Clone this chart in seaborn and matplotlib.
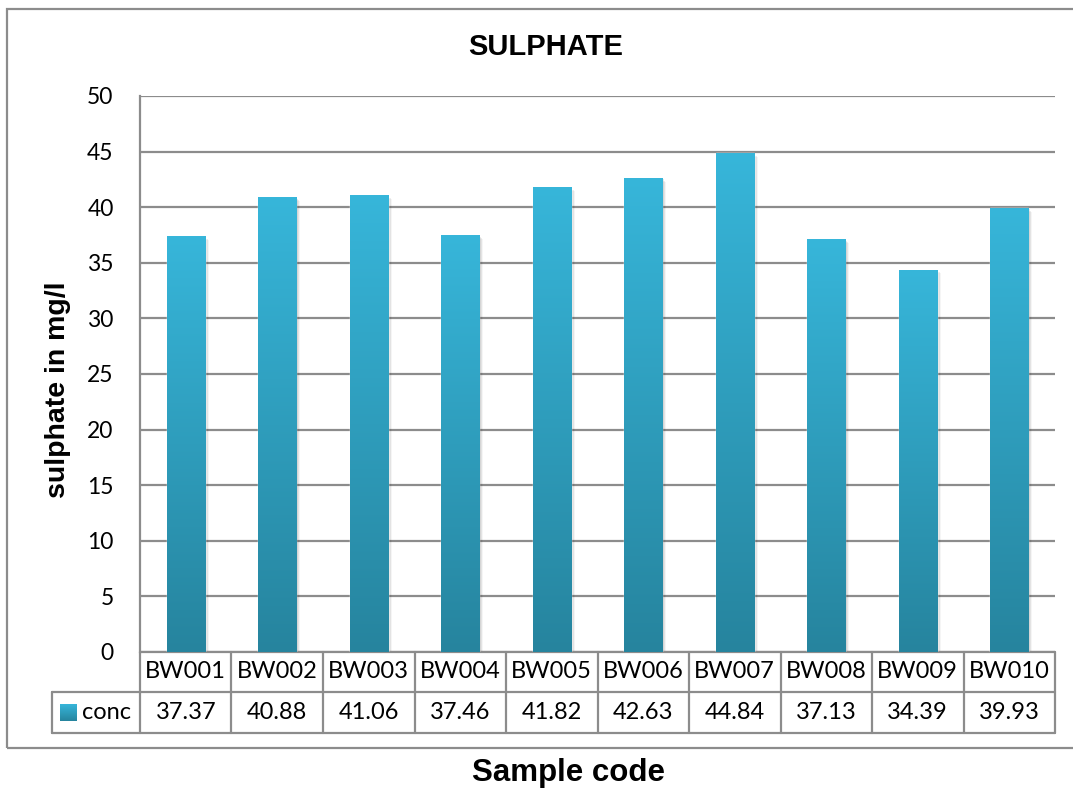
import numpy as np
import pandas as pd
import matplotlib
matplotlib.use("Agg")
import matplotlib.pyplot as plt
import seaborn as sns
from matplotlib.colors import LinearSegmentedColormap
from matplotlib.patches import Rectangle
from matplotlib.lines import Line2D
import matplotlib.transforms as mtransforms

# Data
samples = ["BW001", "BW002", "BW003", "BW004", "BW005",
           "BW006", "BW007", "BW008", "BW009", "BW010"]
conc = [37.37, 40.88, 41.06, 37.46, 41.82, 42.63, 44.84, 37.13, 34.39, 39.93]
series_name = "conc"
y_ticks = [0, 5, 10, 15, 20, 25, 30, 35, 40, 45, 50]

df = pd.DataFrame({"sample": samples, series_name: conc})

sns.set_theme(style="white")
plt.rcParams["font.family"] = ["Lato", "DejaVu Sans"]

W, H = 1073, 790
fig = plt.figure(figsize=(W / 100, H / 100), dpi=100)
fig.patch.set_facecolor("white")

# plot area in pixels: left 140, right 1055, top 96, bottom 652
ax = fig.add_axes([140 / W, (H - 652) / H, 915 / W, 556 / H])

top_col = "#37b6da"
bot_col = "#26849e"
grid_col = "#8c8c8c"

sns.barplot(data=df, x="sample", y=series_name, ax=ax, width=0.42,
            color=top_col, saturation=1, zorder=3)

ax.set_xlim(-0.5, len(samples) - 0.5)
ax.set_ylim(y_ticks[0], y_ticks[-1])
ax.set_yticks(y_ticks)
ax.set_yticklabels([str(t) for t in y_ticks], fontsize=16.5, color="black")
ax.tick_params(axis="y", length=0, pad=19)
ax.tick_params(axis="x", length=0, labelbottom=False)
ax.set_xlabel("")
ax.set_ylabel("")
ax.yaxis.grid(True, color=grid_col, lw=1.6)
ax.xaxis.grid(False)
ax.set_axisbelow(True)
for side in ["top", "right", "bottom"]:
    ax.spines[side].set_visible(False)
ax.spines["left"].set_color(grid_col)
ax.spines["left"].set_linewidth(1.6)

# vertical gradient fill on every bar, with a soft drop shadow
cmap = LinearSegmentedColormap.from_list("bar", [bot_col, top_col])
grad = np.linspace(0, 1, 256).reshape(-1, 1)
for patch in ax.patches:
    x0, y0 = patch.get_x(), patch.get_y()
    w, h = patch.get_width(), patch.get_height()
    for k, a in enumerate([0.10, 0.07, 0.04]):
        off = mtransforms.offset_copy(ax.transData, fig=fig,
                                      x=1.5 + k * 1.2, y=-1.5 - k * 1.2, units="dots")
        ax.add_patch(Rectangle((x0, y0), w, h, transform=off,
                               facecolor="black", alpha=a, lw=0, zorder=2))
    im = ax.imshow(grad, extent=(x0, x0 + w, y0, y0 + h), origin="lower",
                   cmap=cmap, aspect="auto", zorder=4, interpolation="bilinear")
    im.set_clip_path(patch)
ax.set_xlim(-0.5, len(samples) - 0.5)
ax.set_ylim(y_ticks[0], y_ticks[-1])

# data table below the plot
trans = mtransforms.blended_transform_factory(ax.transData, ax.transAxes)
r1 = -40 / 556
r2 = -81 / 556
n = len(samples)
xl = -0.5 - 88 * n / 915  # left edge of the legend cell
lw_t = 1.6
line_kw = dict(color=grid_col, lw=lw_t, clip_on=False, transform=trans)
ax.add_line(Line2D([xl, n - 0.5], [r1, r1], **line_kw))
ax.add_line(Line2D([xl, n - 0.5], [r2, r2], **line_kw))
ax.add_line(Line2D([-0.5, n - 0.5], [0, 0], **line_kw))
ax.add_line(Line2D([xl, xl], [r1, r2], **line_kw))
for i in range(n + 1):
    ax.add_line(Line2D([i - 0.5, i - 0.5], [0, r2], **line_kw))
for i, (s, v) in enumerate(zip(samples, conc)):
    ax.text(i, r1 / 2, s, transform=trans, ha="center", va="center",
            fontsize=17, color="black")
    ax.text(i, (r1 + r2) / 2, f"{v:.2f}", transform=trans, ha="center",
            va="center", fontsize=17, color="black")

# legend key in the table's first cell
key_x = -0.5 - 80 * n / 915
key_w = 17 * n / 915
key_h = 17 / 556
key_y = (r1 + r2) / 2 - key_h / 2
key = Rectangle((key_x, key_y), key_w, key_h, transform=trans,
                facecolor=top_col, lw=0, clip_on=False)
ax.add_patch(key)
kim = ax.imshow(grad, extent=(key_x, key_x + key_w, key_y, key_y + key_h),
                origin="lower", cmap=cmap, aspect="auto", transform=trans,
                clip_on=False, zorder=5)
kim.set_clip_path(key)
ax.text(-0.5 - 58 * n / 915, (r1 + r2) / 2, series_name, transform=trans,
        ha="left", va="center", fontsize=17, color="black")
ax.set_xlim(-0.5, n - 0.5)
ax.set_ylim(y_ticks[0], y_ticks[-1])

# chart frame
fig.add_artist(Rectangle((7 / W, (H - 748) / H), 1.0, (748 - 9) / H,
                         transform=fig.transFigure, facecolor="none",
                         edgecolor="#8c8c8c", lw=1.6, clip_on=False))

# titles
bold = ["Liberation Sans", "DejaVu Sans"]
fig.text(546 / W, 1 - 47 / H, "SULPHATE", ha="center", va="center",
         fontsize=21, fontweight="bold", family=bold, color="black")
fig.text(568 / W, 1 - 773 / H, "Sample code", ha="center", va="center",
         fontsize=22.5, fontweight="bold", family=bold, color="black")
fig.text(58 / W, 1 - 390 / H, "sulphate in mg/l", ha="center", va="center",
         rotation=90, fontsize=20.5, fontweight="bold", family=bold, color="black")

fig.savefig("out.png", dpi=100, facecolor="white")
